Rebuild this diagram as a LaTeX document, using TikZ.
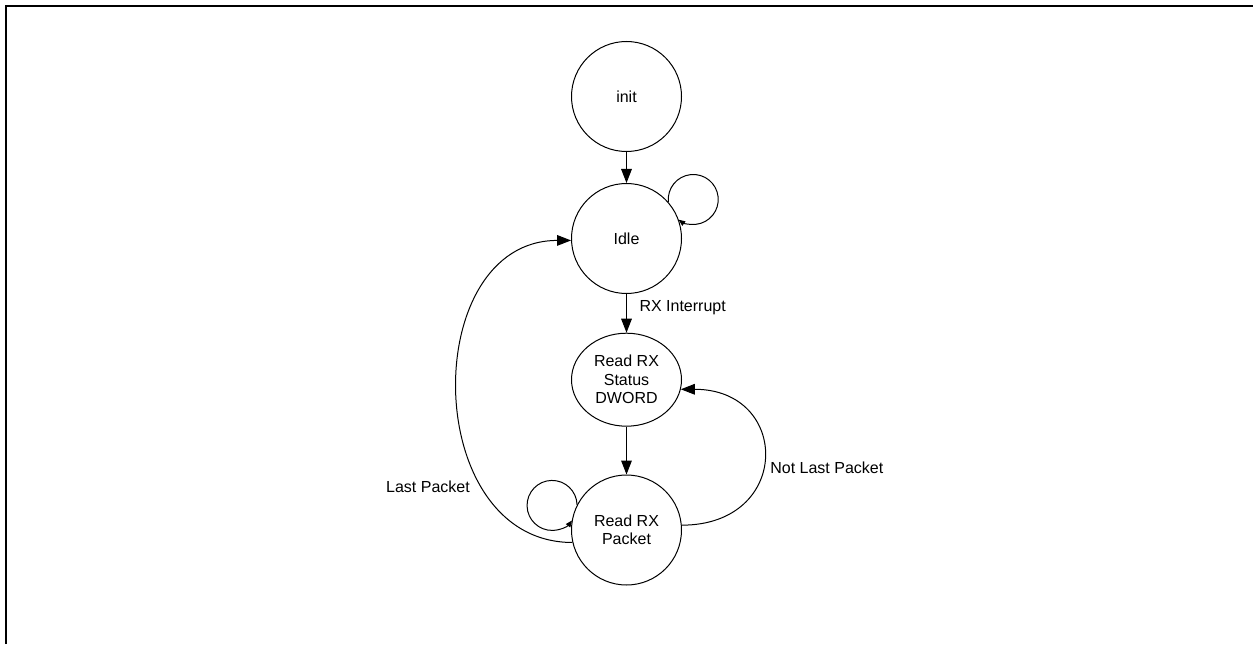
\documentclass[tikz,border=0pt]{standalone}
\usepackage{fontspec}
\setmainfont{Liberation Sans}
\usetikzlibrary{arrows.meta,shapes.geometric}

\begin{document}
\begin{tikzpicture}[x=0.75pt,y=0.75pt,
  state/.style={draw,circle,line width=0.75pt,minimum size=82.5pt,inner sep=0pt,align=center,font=\fontsize{12}{13.9}\selectfont},
  trans/.style={line width=0.75pt,-{Triangle[length=10.5pt,width=8pt]}},
  selfloop/.style={line width=0.75pt,-{Triangle[length=5pt,width=4pt]}},
  lbl/.style={inner sep=0pt,font=\fontsize{12}{13.9}\selectfont}]
\useasboundingbox (0,0) rectangle (1253,644);

% Draw frame
\draw[line width=1.5pt] (6,0) -- (6,638) -- (1253,638);

% Draw states
\node[state] (init) at (626.5,547.5) {init};
\node[state] (idle) at (626.5,405.5) {Idle};
\node[state,ellipse,minimum width=82.5pt,minimum height=69.75pt] (status) at (626.5,264.3) {Read RX\\Status\\DWORD};
\node[state] (packet) at (626.5,114) {Read RX\\Packet};

% Draw transitions
\draw[trans] (init) -- (idle);
\draw[trans] (idle) -- node[lbl,anchor=west,pos=0.35,xshift=9.4pt] {RX Interrupt} (status);
\draw[trans] (status) -- (packet);
\draw[trans] (packet.5) to[out=0,in=0,looseness=2.07] node[lbl,anchor=west,pos=0.45,xshift=5pt] {Not Last Packet} (status.-10);
\draw[trans] (packet.193) to[out=180,in=180,looseness=1.29] node[lbl,anchor=east,pos=0.275,xshift=-8pt] {Last Packet} (idle.182);

% Draw self loops
\draw[selfloop] (idle.41) arc[start angle=186,end angle=-126,radius=25];
\draw[selfloop] (packet.153) arc[start angle=1.4,end angle=323,radius=25];
\end{tikzpicture}
\end{document}
